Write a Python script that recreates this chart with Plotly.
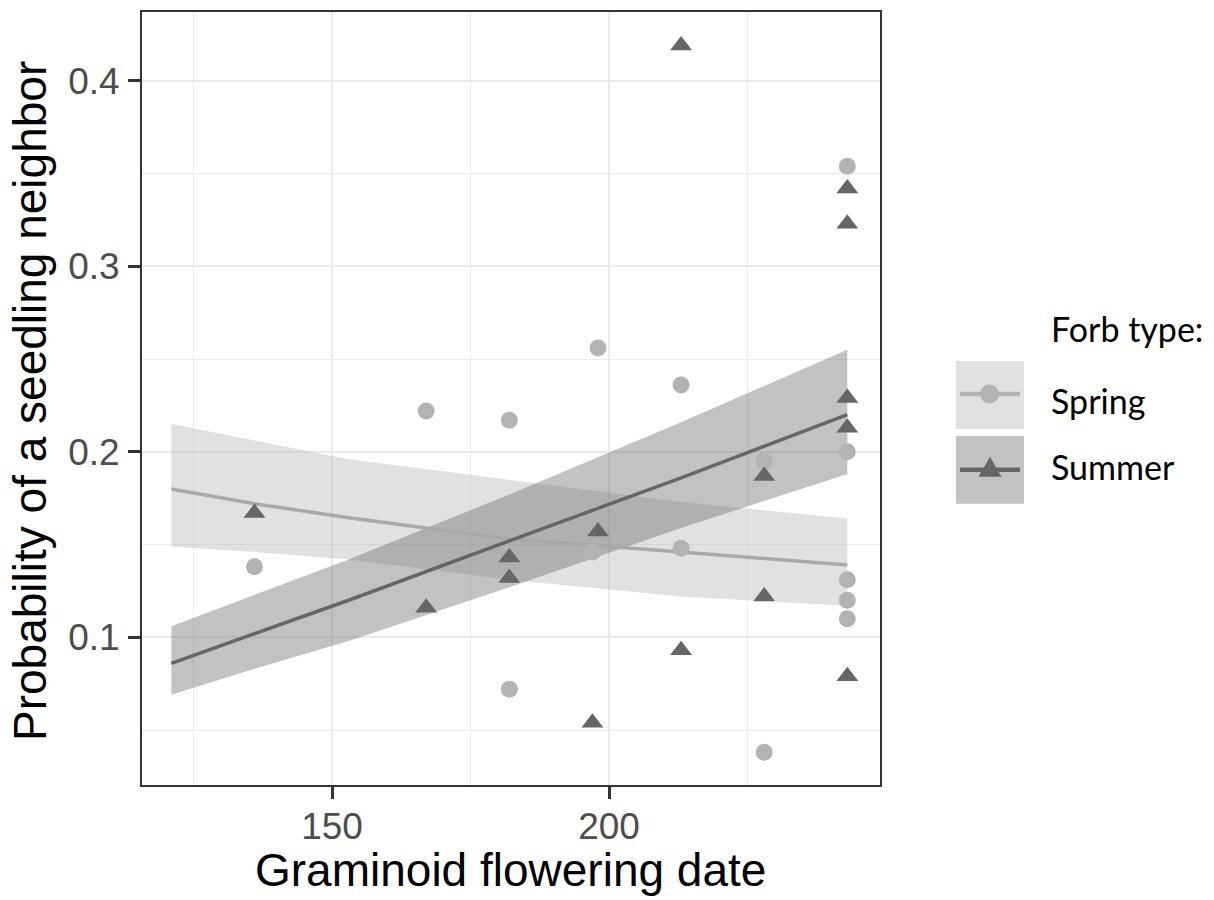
import plotly.graph_objects as go

# Forb types shown in the legend
forb_types = ["Spring", "Summer"]

# Observed points: graminoid flowering date (day of year) vs. probability of a seedling neighbor
spring_date = [136, 167, 182, 182, 198, 197, 213, 213, 228, 228, 243, 243, 243, 243, 243]
spring_prob = [0.138, 0.222, 0.217, 0.072, 0.256, 0.146, 0.236, 0.148, 0.195, 0.038,
               0.354, 0.200, 0.131, 0.120, 0.110]

summer_date = [136, 167, 182, 182, 198, 197, 213, 213, 228, 228, 243, 243, 243, 243, 243]
summer_prob = [0.167, 0.116, 0.143, 0.132, 0.157, 0.054, 0.419, 0.093, 0.187, 0.122,
               0.342, 0.323, 0.229, 0.213, 0.079]

# Fitted curves with confidence bands
fit_date = [121, 136, 153, 182, 213, 243]
spring_fit = [0.180, 0.172, 0.1645, 0.153, 0.146, 0.139]
spring_lo = [0.149, 0.146, 0.142, 0.131, 0.122, 0.117]
spring_hi = [0.215, 0.206, 0.196, 0.185, 0.173, 0.164]
summer_fit = [0.086, 0.102, 0.120, 0.152, 0.186, 0.220]
summer_lo = [0.069, 0.083, 0.098, 0.127, 0.159, 0.188]
summer_hi = [0.106, 0.123, 0.142, 0.177, 0.216, 0.255]

SPRING_COL = "#b3b3b3"
SUMMER_COL = "#666666"
SPRING_FILL = "rgba(179,179,179,0.4)"
SUMMER_FILL = "rgba(102,102,102,0.4)"
ARIAL = "Liberation Sans, Arial, sans-serif"
LEG_FONT = "Lato, Noto Sans, sans-serif"

fig = go.Figure()

# confidence bands
for lo, hi, fill in [(spring_lo, spring_hi, SPRING_FILL), (summer_lo, summer_hi, SUMMER_FILL)]:
    fig.add_trace(go.Scatter(
        x=fit_date + fit_date[::-1], y=hi + lo[::-1],
        fill="toself", fillcolor=fill, mode="lines", line=dict(width=0),
        hoverinfo="skip", showlegend=False))

# fitted lines
fig.add_trace(go.Scatter(x=fit_date, y=spring_fit, mode="lines",
                         line=dict(color="#a9a9a9", width=3.5), showlegend=False))
fig.add_trace(go.Scatter(x=fit_date, y=summer_fit, mode="lines",
                         line=dict(color=SUMMER_COL, width=3.5), showlegend=False))

# observations
fig.add_trace(go.Scatter(x=spring_date, y=spring_prob, mode="markers", name=forb_types[0],
                         marker=dict(symbol="circle", size=17, color=SPRING_COL), showlegend=False))
fig.add_trace(go.Scatter(x=summer_date, y=summer_prob, mode="markers", name=forb_types[1],
                         marker=dict(symbol="triangle-up", size=19, color=SUMMER_COL), showlegend=False))

# plot area in pixels
L, R, T, B = 142, 880, 10, 785
W, H = R - L, B - T


def px(x):
    return (x - L) / W


def py(y):
    return (B - y) / H


axis_common = dict(
    showline=True, mirror=True, linecolor="#333333", linewidth=2,
    ticks="outside", ticklen=12, tickwidth=2.5, tickcolor="#333333",
    tickfont=dict(family=ARIAL, size=37, color="#4d4d4d"),
    gridcolor="#ebebeb", gridwidth=2.2, zeroline=False,
)

fig.update_layout(
    width=1214, height=900,
    margin=dict(l=L, r=1214 - R, t=T, b=900 - B),
    plot_bgcolor="white", paper_bgcolor="white",
    showlegend=False,
    xaxis=dict(range=[115.7, 248.9], tick0=0, dtick=50,
               minor=dict(dtick=25, showgrid=True, gridcolor="#ebebeb", gridwidth=1.2, ticks=""),
               ticklabelstandoff=-4, **axis_common),
    yaxis=dict(range=[0.0204, 0.4371], tick0=0, dtick=0.1, tickformat=".1f",
               minor=dict(dtick=0.05, showgrid=True, gridcolor="#ebebeb", gridwidth=1.2, ticks=""),
               ticklabelstandoff=1, **axis_common),
)

annotations = [
    dict(text="Graminoid flowering date", x=px(510), y=py(870), xref="paper", yref="paper",
         showarrow=False, font=dict(family=ARIAL, size=46, color="black"),
         xanchor="center", yanchor="middle"),
    dict(text="Probability of a seedling neighbor", x=px(30), y=py(400), xref="paper", yref="paper",
         showarrow=False, textangle=-90, font=dict(family=ARIAL, size=46, color="black"),
         xanchor="center", yanchor="middle"),
    dict(text="Forb type:", x=px(1049), y=py(327), xref="paper", yref="paper",
         showarrow=False, font=dict(family=LEG_FONT, size=34, color="black"),
         xanchor="left", yanchor="middle"),
]
for name, yc in zip(forb_types, [400, 466]):
    annotations.append(dict(text=name, x=px(1049), y=py(yc), xref="paper", yref="paper",
                            showarrow=False, font=dict(family=LEG_FONT, size=34, color="black"),
                            xanchor="left", yanchor="middle"))
fig.update_layout(annotations=annotations)

# legend keys
shapes = []
keys = [(360, 428, 393, SPRING_FILL, "#b3b3b3"), (435, 503, 469, SUMMER_FILL, SUMMER_COL)]
for (y0, y1, yl, fill, col) in keys:
    shapes.append(dict(type="rect", xref="paper", yref="paper", x0=px(956), x1=px(1024),
                       y0=py(y1), y1=py(y0), fillcolor=fill, line=dict(width=0)))
    shapes.append(dict(type="line", xref="paper", yref="paper", x0=px(960), x1=px(1020),
                       y0=py(yl), y1=py(yl), line=dict(color=col, width=4.5)))
shapes.append(dict(type="circle", xref="paper", yref="paper", x0=px(980), x1=px(999),
                   y0=py(402.5), y1=py(383.5), fillcolor=SPRING_COL, line=dict(width=0)))
tri = "M {},{} L {},{} L {},{} Z".format(px(978.5), py(476), px(1001.5), py(476), px(990), py(456))
shapes.append(dict(type="path", xref="paper", yref="paper", path=tri,
                   fillcolor=SUMMER_COL, line=dict(width=0)))
fig.update_layout(shapes=shapes)

fig.write_html("out.html")
